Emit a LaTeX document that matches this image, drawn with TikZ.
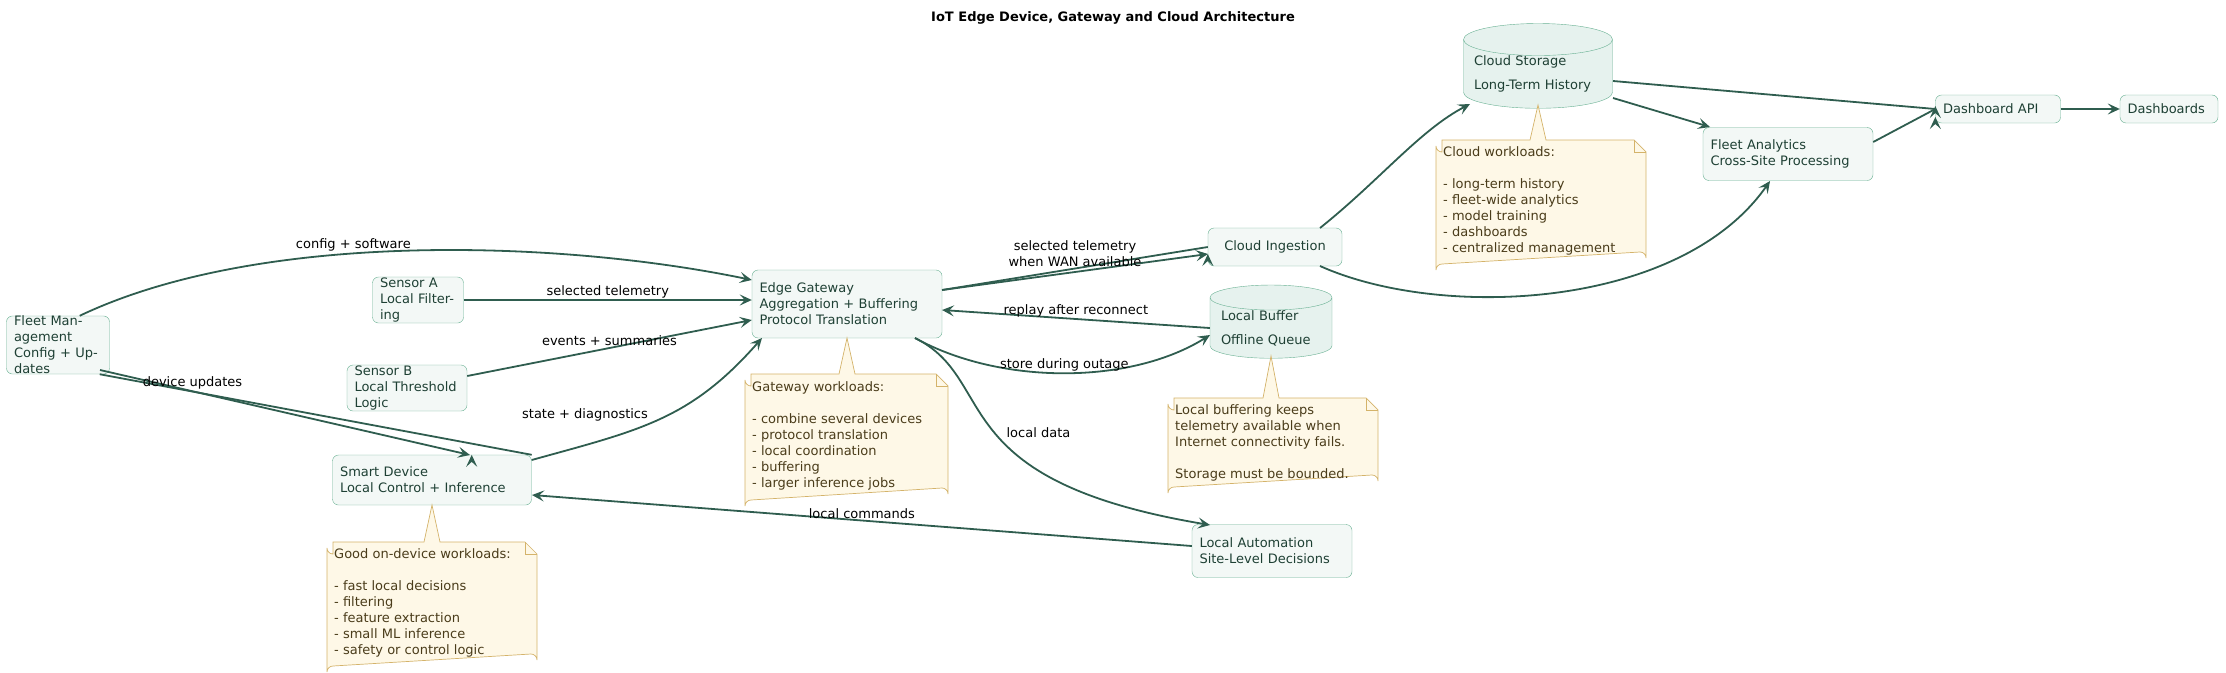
\documentclass[tikz,border=0pt]{standalone}
\usepackage{fontspec}
\setmainfont{DejaVu Sans}
\usetikzlibrary{shapes.geometric,arrows.meta}
\definecolor{nfill}{HTML}{F3F8F6}
\definecolor{cfill}{HTML}{E6F2EE}
\definecolor{nborder}{HTML}{68B092}
\definecolor{ntext}{HTML}{1E4034}
\definecolor{arr}{HTML}{2F5D4F}
\definecolor{notefill}{HTML}{FEF8E7}
\definecolor{noteborder}{HTML}{D4B36A}
\definecolor{notetext}{HTML}{4A3C1A}
\tikzset{
  box/.style={draw=nborder, fill=nfill, rounded corners=6pt, text=ntext, align=left, font=\fontsize{13}{16}\selectfont, inner sep=0pt, text width=#1},
  db/.style={cylinder, shape border rotate=90, aspect=0.25, draw=nborder, fill=cfill, text=ntext, align=left, font=\fontsize{13}{16}\selectfont, inner sep=0pt, text width=#1},
  lab/.style={font=\fontsize{13}{16}\selectfont, text=black, align=center, inner sep=1pt},
  ntxt/.style={font=\fontsize{13}{16}\selectfont, text=notetext, align=left, anchor=north west, inner sep=0pt},
  npath/.style={draw=noteborder, fill=notefill, line width=0.7pt},
  con/.style={draw=arr, line width=1.8pt, -{Stealth[length=12pt,width=11pt,inset=5pt]}},
}
\newcommand{\notebox}[6]{% x1 y1 x2 y2 tipx tipy
  \path[npath] (#1+6,#2) -- (#5-8,#2) -- (#5,#6) -- (#5+8,#2) -- (#3-12,#2) -- (#3,#2+12) -- (#3,#4-6)
    arc[start angle=0,end angle=-90,radius=6] -- (#1+6,#4) arc[start angle=-90,end angle=-180,radius=6]
    -- (#1,#2+6) arc[start angle=180,end angle=90,radius=6] -- cycle;
  \draw[noteborder, line width=0.7pt] (#3-12,#2) -- (#3-12,#2+12) -- (#3,#2+12);
}
\begin{document}
\begin{tikzpicture}[x=1pt,y=-1pt]
\useasboundingbox (0,0) rectangle (2226,672);
\node[font=\bfseries\fontsize{13}{16}\selectfont] (title) at (1113,18) {IoT Edge Device, Gateway and Cloud Architecture};

\node[box=88pt, minimum width=103pt, minimum height=50pt] (fm) at (58,345) {Fleet Management\\Config + Updates};
\node[box=76pt, minimum width=91pt, minimum height=46pt] (sa) at (418,300) {Sensor A\\Local Filtering};
\node[box=105pt, minimum width=120pt, minimum height=46pt] (sb) at (407,388) {Sensor B\\Local Threshold Logic};
\node[box=184pt, minimum width=199pt, minimum height=50pt] (sd) at (432,480) {Smart Device\\Local Control + Inference};
\node[box=175pt, minimum width=190pt, minimum height=68pt] (gw) at (847,304) {Edge Gateway\\Aggregation + Buffering\\Protocol Translation};
\node[box=119pt, minimum width=134pt, minimum height=38pt, align=center] (ci) at (1275,247) {Cloud Ingestion};
\node[db=100pt, minimum width=122pt, minimum height=56pt] (lb) at (1271,328) {\vspace{8pt}Local Buffer\\Offline Queue};
\node[box=145pt, minimum width=160pt, minimum height=53pt] (la) at (1272,551) {Local Automation\\Site-Level Decisions};
\node[db=128pt, minimum width=149pt, minimum height=62pt] (cs) at (1538,74) {\vspace{8pt}Cloud Storage\\Long-Term History};
\node[box=155pt, minimum width=170pt, minimum height=53pt] (fa) at (1788,154) {Fleet Analytics\\Cross-Site Processing};
\node[box=110pt, minimum width=125pt, minimum height=28pt] (api) at (1998,109) {Dashboard API};
\node[box=83pt, minimum width=98pt, minimum height=28pt] (dash) at (2169,109) {Dashboards};

% notes
\notebox{745}{374}{948}{500}{847}{338}
\node[ntxt] (n1) at (752,381) {Gateway workloads:\\[16pt]- combine several devices\\- protocol translation\\- local coordination\\- buffering\\- larger inference jobs};
\notebox{1436}{140}{1646}{264}{1538}{105}
\node[ntxt] (n2) at (1443,146) {Cloud workloads:\\[16pt]- long-term history\\- fleet-wide analytics\\- model training\\- dashboards\\- centralized management};
\notebox{1168}{398}{1378}{487}{1271}{356}
\node[ntxt] (n3) at (1175,404) {Local buffering keeps\\telemetry available when\\Internet connectivity fails.\\[16pt]Storage must be bounded.};
\notebox{327}{542}{537}{666}{432}{505}
\node[ntxt] (n4) at (334,548) {Good on-device workloads:\\[16pt]- fast local decisions\\- filtering\\- feature extraction\\- small ML inference\\- safety or control logic};

% connectors
\draw[con] (fm.north east) ++(-30,0) coordinate (a1) (a1) .. controls (260,230) and (560,240) .. (gw.north west |- 0,280) node[lab, pos=0.42, above] {config + software};
\draw[con] (sa.east) -- (gw.west |- sa.east) node[lab, midway, above] {selected telemetry};
\draw[con] (sb.east) ++(0,-12) -- (gw.west |- 0,320) node[lab, midway, above] {events + summaries};
\draw[con] (fm.south east) ++(-10,0) -- (sd.north east) ++(-60,0) node[lab, pos=0.3, above left] {};
\draw[con] (100,370) -- (470,455) node[lab, pos=0.25, above] {device updates};
\draw[con] (sd.east) ++(0,-20) .. controls (640,430) and (690,420) .. (762,338) node[lab, pos=0.45, above left] {state + diagnostics};
\draw[con] (gw.east) ++(0,-14) -- (ci.west) ++(0,7) node[lab, pos=0.5, above] {};
\draw[con] (942,290) -- (1208,254) node[lab, midway, above=3pt] {selected telemetry\\when WAN available};
\draw[con] (lb.west) -- (942,310) node[lab, midway, above] {replay after reconnect};
\draw[con] (915,338) .. controls (1000,385) and (1130,385) .. (1210,335) node[lab, pos=0.5, above] {store during outage};
\draw[con] (915,338) .. controls (1000,380) and (940,480) .. (1210,525) node[lab, pos=0.55, above right=2pt] {local data};
\draw[con] (la.west) ++(0,-5) -- (532,495) node[lab, midway, above] {local commands};
\draw[con] (1320,228) .. controls (1380,180) and (1420,130) .. (1470,104);
\draw[con] (1320,266) .. controls (1440,320) and (1680,310) .. (1770,181);
\draw[con] (1613,81) -- (api.west) ++(0,-3);
\draw[con] (1613,98) -- (1710,127);
\draw[con] (fa.east) ++(0,-12) -- (api.west) ++(0,8);
\draw[con] (api) -- (dash);
\end{tikzpicture}
\end{document}
